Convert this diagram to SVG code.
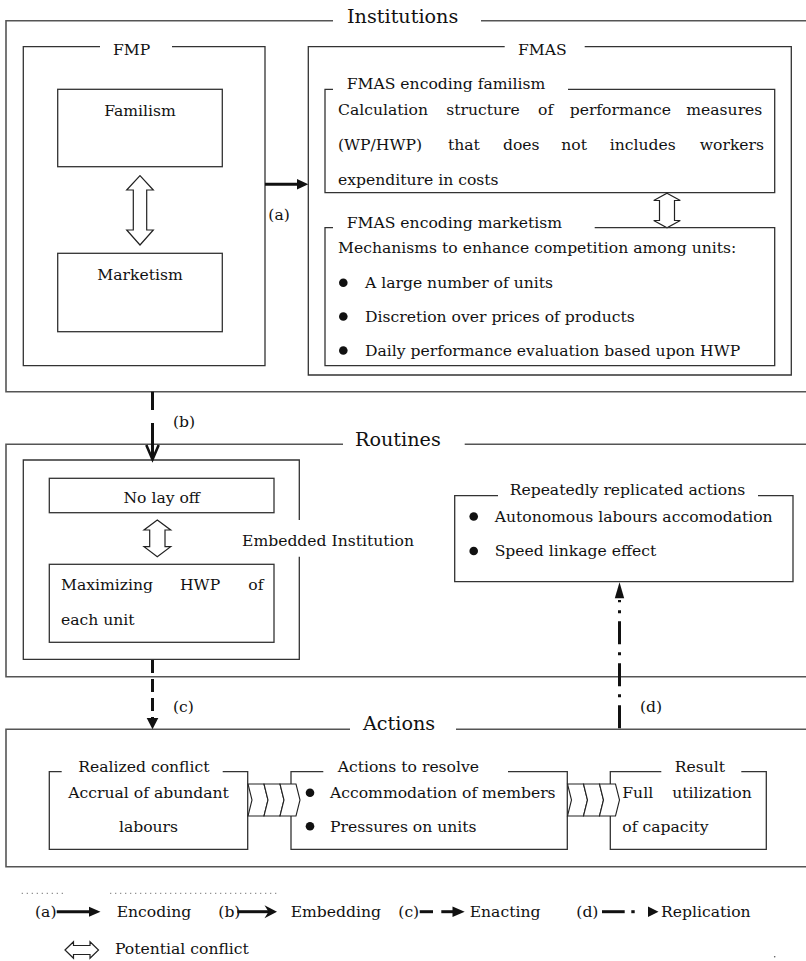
<svg xmlns="http://www.w3.org/2000/svg" width="806" height="961" viewBox="0 0 806 961">
<style>
.sec{fill:none;stroke:#555;stroke-width:1.6}
.box{fill:none;stroke:#333;stroke-width:1.3}
.t{font-family:"DejaVu Serif","Liberation Serif",serif;font-size:15.6px;fill:#111}
.h{font-size:19.2px}
.c{text-anchor:middle}
.bul{fill:#111}
.dbl{fill:#fff;stroke:#222;stroke-width:1.2}
.chev{fill:#fff;stroke:#222;stroke-width:1.1}
.ln{fill:none;stroke:#111;stroke-width:3}
.hd{fill:#111;stroke:none}
</style>
<rect width="806" height="961" fill="#fff"/>

<g id="sec-institutions">
<path class="sec" d="M333,20.7 H6 V391.7 H806 M481,20.7 H806"/>
<text class="t h" x="347" y="23">Institutions</text>
</g>
<g id="node-fmp">
<path class="box" d="M100,46.7 H23.3 V365.7 H265 V46.7 H172"/>
<text class="t" x="113" y="55">FMP</text>
</g>
<g id="node-familism">
<rect class="box" x="57.7" y="89.3" width="164.6" height="77.4"/>
<text class="t c" x="140" y="115.7">Familism</text>
</g>
<g id="node-marketism">
<rect class="box" x="57.7" y="253.3" width="164.6" height="78.4"/>
<text class="t c" x="140" y="280">Marketism</text>
</g>
<g id="conflict-fmp">
<polygon class="dbl" points="140,175.7 153.3,190 146.7,190 146.7,230 153.3,230 140,245 126.7,230 133.3,230 133.3,190 126.7,190"/>
</g>
<g id="node-fmas">
<path class="box" d="M504.7,46.7 H308.3 V375 H791.3 V46.7 H584.7"/>
<text class="t" x="518" y="55">FMAS</text>
</g>
<g id="node-fmas-familism">
<path class="box" d="M333,89.3 H325 V192.7 H774.7 V89.3 H568"/>
<text class="t" x="346.7" y="89">FMAS encoding familism</text>
<text class="t" y="115"><tspan x="338">Calculation</tspan><tspan x="446.3">structure</tspan><tspan x="538">of</tspan><tspan x="569.7">performance</tspan><tspan x="686.3">measures</tspan></text>
<text class="t" y="150"><tspan x="338">(WP/HWP)</tspan><tspan x="448">that</tspan><tspan x="503">does</tspan><tspan x="561.3">not</tspan><tspan x="609.7">includes</tspan><tspan x="699.7">workers</tspan></text>
<text class="t" x="338" y="184.5">expenditure in costs</text>
</g>
<g id="conflict-fmas">
<polygon class="dbl" points="667,193.3 680.3,200.5 674.5,200.5 674.5,220.5 680.3,220.5 667,227.7 653.7,220.5 659.5,220.5 659.5,200.5 653.7,200.5"/>
</g>
<g id="node-fmas-marketism">
<path class="box" d="M333,227.7 H325 V365.7 H774.7 V227.7 H594.7"/>
<text class="t" x="346.7" y="228">FMAS encoding marketism</text>
<text class="t" x="338" y="253">Mechanisms to enhance competition among units:</text>
<circle class="bul" cx="343.3" cy="282.7" r="4.3"/>
<text class="t" x="365" y="287.5">A large number of units</text>
<circle class="bul" cx="343.3" cy="316.5" r="4.3"/>
<text class="t" x="365" y="321.5">Discretion over prices of products</text>
<circle class="bul" cx="343.3" cy="350.5" r="4.3"/>
<text class="t" x="365" y="356">Daily performance evaluation based upon HWP</text>
</g>

<g id="sec-routines">
<path class="sec" d="M343,444.3 H6 V676.7 H806 M464.7,444.3 H806"/>
<text class="t h" x="355" y="446">Routines</text>
</g>
<g id="node-embedded">
<path class="box" d="M299.3,520 V460 H23.3 V659.3 H299.3 V556.7"/>
<text class="t" x="242" y="546">Embedded Institution</text>
</g>
<g id="node-nolayoff">
<rect class="box" x="49.3" y="478.3" width="224.7" height="34.4"/>
<text class="t c" x="161.7" y="503">No lay off</text>
</g>
<g id="conflict-routines">
<polygon class="dbl" points="157.3,520 170.7,530 165,530 165,546.7 170.7,546.7 157.3,556.7 144,546.7 149.7,546.7 149.7,530 144,530"/>
</g>
<g id="node-maximizing">
<rect class="box" x="49.3" y="564.3" width="224.7" height="78"/>
<text class="t" y="590"><tspan x="61">Maximizing</tspan><tspan x="180">HWP</tspan><tspan x="248.3">of</tspan></text>
<text class="t" x="61" y="625">each unit</text>
</g>
<g id="node-repeated">
<path class="box" d="M498,495.7 H454.7 V581.7 H793 V495.7 H758"/>
<text class="t" x="509.7" y="495">Repeatedly replicated actions</text>
<circle class="bul" cx="473.7" cy="516.5" r="4.3"/>
<text class="t" x="494.7" y="521.5">Autonomous labours accomodation</text>
<circle class="bul" cx="473.7" cy="551" r="4.3"/>
<text class="t" x="494.7" y="556">Speed linkage effect</text>
</g>

<g id="sec-actions">
<path class="sec" d="M350,729.3 H6 V866.7 H806 M456,729.3 H806"/>
<text class="t h" x="363" y="730">Actions</text>
</g>
<g id="node-realized">
<path class="box" d="M61.7,771.7 H49.3 V849.3 H247.7 V771.7 H222.7"/>
<text class="t" x="78.3" y="771.5">Realized conflict</text>
<text class="t" x="68.3" y="798.3">Accrual of abundant</text>
<text class="t c" x="148.5" y="831.7">labours</text>
</g>
<g id="node-resolve">
<path class="box" d="M323.3,771.7 H291 V849.3 H567.3 V771.7 H508"/>
<text class="t" x="337.7" y="771.5">Actions to resolve</text>
<circle class="bul" cx="310" cy="792.8" r="4.3"/>
<text class="t" x="330" y="798.3">Accommodation of members</text>
<circle class="bul" cx="310" cy="826.2" r="4.3"/>
<text class="t" x="330" y="831.7">Pressures on units</text>
</g>
<g id="node-result">
<path class="box" d="M661.3,771.7 H610.3 V849.3 H766.3 V771.7 H741.3"/>
<text class="t" x="674.7" y="771.5">Result</text>
<text class="t" y="798.3"><tspan x="622.3">Full</tspan><tspan x="672.3">utilization</tspan></text>
<text class="t" x="622.3" y="831.7">of capacity</text>
</g>

<g id="connectors">
<line class="ln" x1="265" y1="184.3" x2="298" y2="184.3"/>
<polygon class="hd" points="297,179 308.3,184.3 297,189.6"/>
<text class="t" x="268.3" y="220">(a)</text>

<path class="ln" d="M152.5,391.7 V410 M152.5,423 V458"/>
<polyline points="146.3,445 152.5,459.5 158.7,445" fill="none" stroke="#111" stroke-width="2.6"/>
<text class="t" x="173" y="426.5">(b)</text>

<path class="ln" d="M152.5,660 V719" stroke-dasharray="13 6"/>
<polygon class="hd" points="146.7,718 158.3,718 152.5,729.3"/>
<text class="t" x="173" y="711.7">(c)</text>

<path class="ln" d="M619.5,728.3 V600" stroke-dasharray="23 8 3 8"/>
<polygon class="hd" points="614.8,598.3 624.2,598.3 619.5,582.3"/>
<text class="t" x="640" y="711.7">(d)</text>

<polygon class="chev" points="248,784 264,784 268,800 264,816 248,816 252,800"/>
<polygon class="chev" points="264,784 280,784 284,800 280,816 264,816 268,800"/>
<polygon class="chev" points="280,784 296,784 300,800 296,816 280,816 284,800"/>
<polygon class="chev" points="567.5,784 583.5,784 587.5,800 583.5,816 567.5,816 571.5,800"/>
<polygon class="chev" points="583.5,784 599.5,784 603.5,800 599.5,816 583.5,816 587.5,800"/>
<polygon class="chev" points="599.5,784 615.5,784 619.5,800 615.5,816 599.5,816 603.5,800"/>
</g>

<g id="legend">
<path d="M21.7,893.3 H66.7 M110,893.3 H278.3" fill="none" stroke="#777" stroke-width="1" stroke-dasharray="1.3 3.7"/>
<text class="t" x="35" y="917">(a)</text>
<line class="ln" x1="56.7" y1="911.7" x2="91" y2="911.7"/>
<polygon class="hd" points="89,906.7 100.5,911.7 89,916.7"/>
<text class="t" x="116.7" y="917">Encoding</text>
<text class="t" x="218.3" y="917">(b)</text>
<line class="ln" x1="237.3" y1="911.7" x2="269" y2="911.7"/>
<polygon class="hd" points="264.5,905.2 277,911.7 264.5,918.2 268.5,911.7"/>
<text class="t" x="290.7" y="917">Embedding</text>
<text class="t" x="398.3" y="917">(c)</text>
<line class="ln" x1="419.7" y1="911.7" x2="433" y2="911.7"/>
<line class="ln" x1="441.3" y1="911.7" x2="454" y2="911.7"/>
<polygon class="hd" points="452.5,906.5 464.7,911.7 452.5,916.9"/>
<text class="t" x="469.7" y="917">Enacting</text>
<text class="t" x="576.3" y="917">(d)</text>
<line class="ln" x1="602" y1="911.7" x2="624.7" y2="911.7"/>
<line class="ln" x1="631.3" y1="911.7" x2="634.7" y2="911.7"/>
<polygon class="hd" points="648,906.5 658.5,911.7 648,916.9"/>
<text class="t" x="661" y="917">Replication</text>
<polygon class="dbl" points="65,950 73.5,941.7 73.5,945.5 90,945.5 90,941.7 98.5,950 90,958.3 90,954.5 73.5,954.5 73.5,958.3"/>
<text class="t" x="115" y="954">Potential conflict</text>
<circle cx="774.7" cy="956.7" r="0.8" fill="#555"/>
</g>
</svg>
